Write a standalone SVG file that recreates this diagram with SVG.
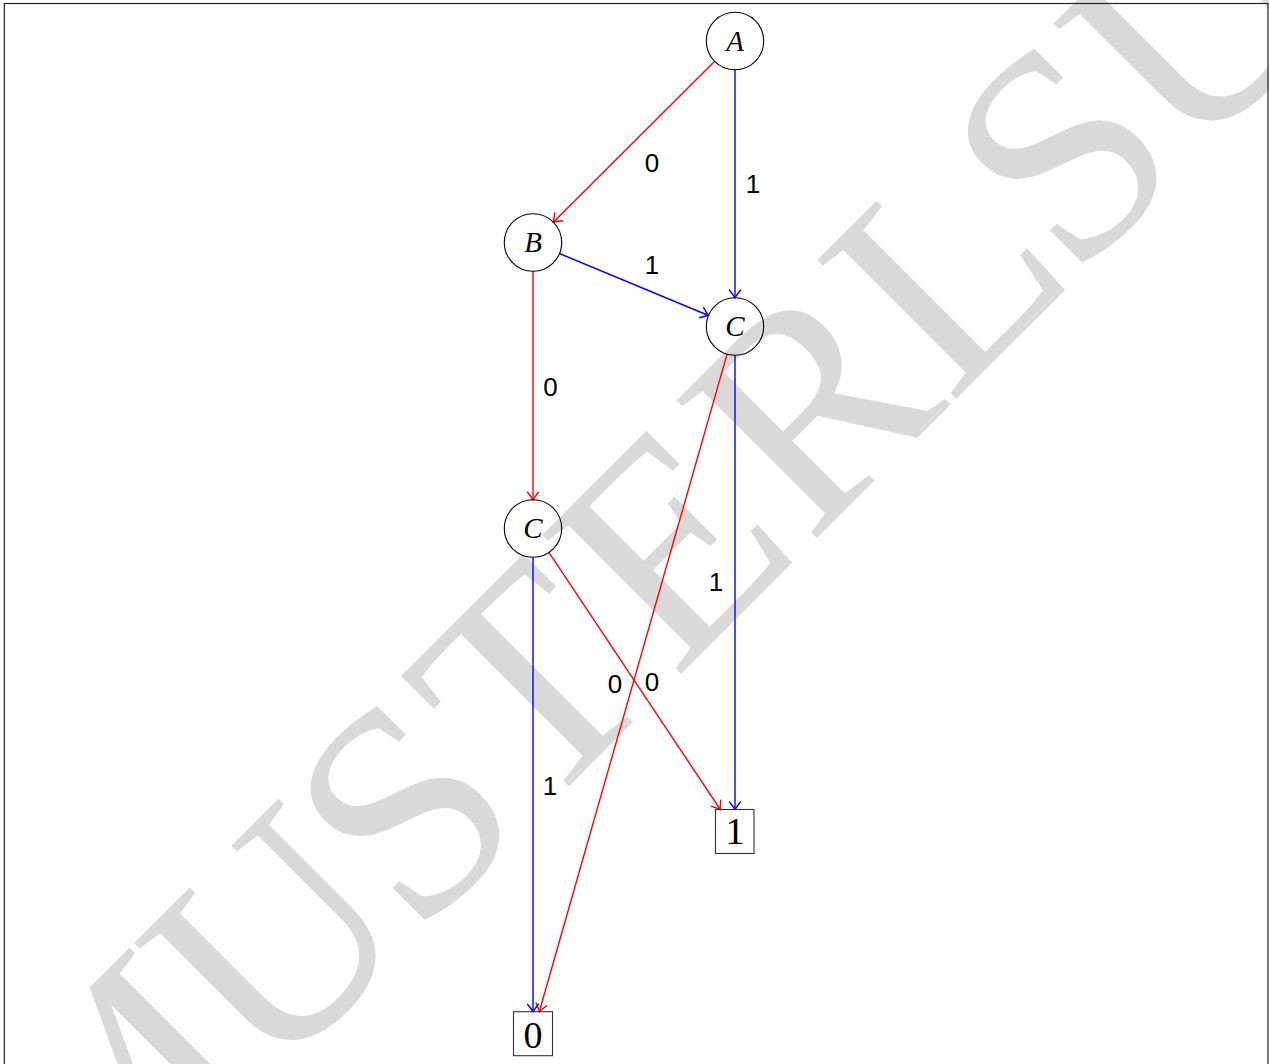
<svg xmlns="http://www.w3.org/2000/svg" width="1269" height="1064" viewBox="0 0 1269 1064">
<style>
.wm{font-family:"Liberation Serif","Times New Roman",serif;font-size:300px;fill:#d9d9d9}
.node{fill:none;stroke:#000;stroke-width:1.1}
.term{fill:none;stroke:#333;stroke-width:1.1}
.nl{font-family:"Liberation Serif","Times New Roman",serif;font-style:italic;font-size:29px;fill:#000;text-anchor:middle}
.tl{font-family:"Liberation Serif","Times New Roman",serif;font-size:38px;fill:#000;text-anchor:middle}
.el{font-family:"Liberation Sans",Arial,sans-serif;font-size:26px;fill:#000;text-anchor:middle}
.r{stroke:#ff0000;stroke-width:1.4;fill:none;marker-end:url(#ar)}
.b{stroke:#0000ff;stroke-width:1.4;fill:none;marker-end:url(#ab)}
</style>
<defs>
<marker id="ar" markerUnits="userSpaceOnUse" viewBox="-10 -7 12 14" refX="0" refY="0" markerWidth="12" markerHeight="14" orient="auto" overflow="visible">
<path d="M-7.5,-5.5 Q-2.5,-1.5 0,0 Q-2.5,1.5 -7.5,5.5" fill="none" stroke="#ff0000" stroke-width="1.4" stroke-linecap="round"/>
</marker>
<marker id="ab" markerUnits="userSpaceOnUse" viewBox="-10 -7 12 14" refX="0" refY="0" markerWidth="12" markerHeight="14" orient="auto" overflow="visible">
<path d="M-7.5,-5.5 Q-2.5,-1.5 0,0 Q-2.5,1.5 -7.5,5.5" fill="none" stroke="#0000ff" stroke-width="1.4" stroke-linecap="round"/>
</marker>
</defs>
<rect x="0" y="0" width="1269" height="1064" fill="#fff"/>
<g id="watermark" transform="translate(89.5 1265.5) rotate(-45)">
<text class="wm" text-anchor="middle" x="128.4 361.7 544.5 723.4 919.8 1118.2 1308.7 1474 1662" y="0">MUSTERLSU</text>
</g>
<rect id="frame" x="4.3" y="3.5" width="1263.7" height="1100" fill="none" stroke="#222" stroke-width="1.2"/>
<g id="connectors">
<line class="r" x1="714.7" y1="61.3" x2="553.3" y2="222.2"/>
<line class="b" x1="735" y1="69.7" x2="735" y2="297.8"/>
<line class="b" x1="559.5" y1="253.5" x2="708.5" y2="315.5"/>
<line class="r" x1="533" y1="271.2" x2="533" y2="499.8"/>
<line class="r" x1="727.1" y1="354.1" x2="539.3" y2="1011.7"/>
<line class="b" x1="735" y1="355.2" x2="735" y2="809.5"/>
<line class="r" x1="548.9" y1="552.4" x2="720.3" y2="809.5"/>
<line class="b" x1="533" y1="557.2" x2="533" y2="1011.7"/>
<text class="el" x="652" y="172">0</text>
<text class="el" x="753" y="193">1</text>
<text class="el" x="652" y="274">1</text>
<text class="el" x="550.5" y="395.5">0</text>
<text class="el" x="716" y="591">1</text>
<text class="el" x="615" y="693">0</text>
<text class="el" x="652" y="691">0</text>
<text class="el" x="550" y="794.5">1</text>
</g>
<g id="nodeA"><circle class="node" cx="735" cy="41" r="28.7"/><text class="nl" x="735" y="50.5">A</text></g>
<g id="nodeB"><circle class="node" cx="533" cy="242.5" r="28.7"/><text class="nl" x="533" y="252">B</text></g>
<g id="nodeC1"><circle class="node" cx="735" cy="326.5" r="28.7"/><text class="nl" x="735" y="336">C</text></g>
<g id="nodeC2"><circle class="node" cx="533" cy="528.5" r="28.7"/><text class="nl" x="533" y="538">C</text></g>
<g id="term1"><rect class="term" x="715.5" y="809.5" width="38.5" height="44"/><text class="tl" x="735" y="844">1</text></g>
<g id="term0"><rect class="term" x="513.5" y="1011.7" width="39" height="44"/><text class="tl" x="533" y="1048">0</text></g>
</svg>
